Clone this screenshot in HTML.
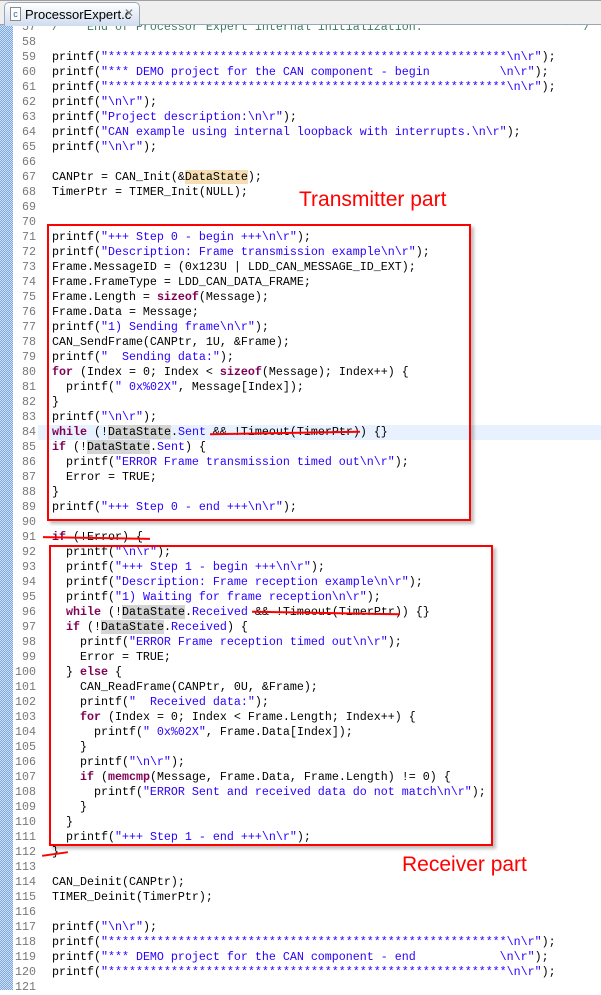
<!DOCTYPE html>
<html><head><meta charset="utf-8">
<style>
*{margin:0;padding:0;box-sizing:border-box}
body{width:601px;height:990px;overflow:hidden;background:#fff;position:relative;font-family:"Liberation Mono",monospace;font-size:11.67px}
.strip{position:absolute;left:0;top:24px;width:13px;height:966px;background-color:#cfe0f7;background-image:linear-gradient(45deg,#7aa7e0 25%,transparent 25%,transparent 75%,#7aa7e0 75%),linear-gradient(45deg,#7aa7e0 25%,transparent 25%,transparent 75%,#7aa7e0 75%);background-size:2px 2px;background-position:0 0,1px 1px}
.tabbar{position:absolute;left:0;top:0;width:601px;height:25px;background:#efefef;border-top:1px solid #a0a0a0;border-bottom:1px solid #9aa6b5}
.tab{position:absolute;left:4px;top:1px;width:136px;height:24px;background:linear-gradient(#ffffff,#cfdcee);border:1px solid #9aa6b5;border-bottom:none;border-radius:5px 5px 0 0;font-family:"Liberation Sans",sans-serif;font-size:13px;color:#000}
.ln{position:absolute;left:0;width:36px;text-align:right;color:#787878;height:15px;line-height:15px;white-space:pre}
.cl{position:absolute;left:52px;height:15px;line-height:15px;white-space:pre;color:#000}
.k{color:#7f0055;font-weight:bold}
.s{color:#2a00ff}
.c{color:#3f7f5f}
.h{background:#d4d4d4}
.o{background:#f5deb3}
.box{position:absolute;border:2px solid #f00;box-shadow:3px 3px 3px rgba(0,0,0,0.25)}
.lab{position:absolute;font-family:"Liberation Sans",sans-serif;color:#f00;font-size:21px;white-space:nowrap}
.st{position:absolute;height:2px;background:#f00}
</style></head><body>
<div class="strip"></div>
<div style="position:absolute;left:38px;top:425px;width:563px;height:15px;background:#e8f2fe"></div>
<div id="code"></div>
<div class="box" style="left:47px;top:224px;width:424px;height:297px"></div>
<div class="box" style="left:49px;top:545px;width:444px;height:301px"></div>
<div class="lab" style="left:299px;top:188px">Transmitter part</div>
<div class="lab" style="left:402px;top:853px">Receiver part</div>
<div class="st" style="left:210px;top:432px;width:150px;transform:rotate(-1deg)"></div>
<div class="st" style="left:43px;top:537px;width:107px;transform:rotate(1deg)"></div>
<div class="st" style="left:252px;top:612px;width:148px;transform:rotate(1deg)"></div>
<div class="st" style="left:42px;top:853px;width:26px;transform:rotate(-8deg)"></div>
<div class="tabbar"><div class="tab"><span style="position:absolute;left:5px;top:4px;width:11px;height:14px;border:1px solid #8a8a8a;background:#fff;font-size:9px;color:#3060a0;text-align:center;line-height:12px">c</span><span style="position:absolute;left:20px;top:4px">ProcessorExpert.c</span><span style="position:absolute;left:119px;top:3px;color:#777;font-size:12px">✕</span></div></div>
<script>
var L={
57:'<span class="c">/*** End of Processor Expert internal initialization.                    ***/</span>',
58:'',
59:'printf(<span class="s">"*********************************************************\\n\\r"</span>);',
60:'printf(<span class="s">"*** DEMO project for the CAN component - begin          \\n\\r"</span>);',
61:'printf(<span class="s">"*********************************************************\\n\\r"</span>);',
62:'printf(<span class="s">"\\n\\r"</span>);',
63:'printf(<span class="s">"Project description:\\n\\r"</span>);',
64:'printf(<span class="s">"CAN example using internal loopback with interrupts.\\n\\r"</span>);',
65:'printf(<span class="s">"\\n\\r"</span>);',
66:'',
67:'CANPtr = CAN_Init(&amp;<span class="o">DataState</span>);',
68:'TimerPtr = TIMER_Init(NULL);',
69:'',70:'',
71:'printf(<span class="s">"+++ Step 0 - begin +++\\n\\r"</span>);',
72:'printf(<span class="s">"Description: Frame transmission example\\n\\r"</span>);',
73:'Frame.MessageID = (0x123U | LDD_CAN_MESSAGE_ID_EXT);',
74:'Frame.FrameType = LDD_CAN_DATA_FRAME;',
75:'Frame.Length = <span class="k">sizeof</span>(Message);',
76:'Frame.Data = Message;',
77:'printf(<span class="s">"1) Sending frame\\n\\r"</span>);',
78:'CAN_SendFrame(CANPtr, 1U, &amp;Frame);',
79:'printf(<span class="s">"  Sending data:"</span>);',
80:'<span class="k">for</span> (Index = 0; Index &lt; <span class="k">sizeof</span>(Message); Index++) {',
81:'  printf(<span class="s">" 0x%02X"</span>, Message[Index]);',
82:'}',
83:'printf(<span class="s">"\\n\\r"</span>);',
84:'<span class="k">while</span> (!<span class="h">DataState</span>.<span class="s">Sent</span> &amp;&amp; !Timeout(TimerPtr)) {}',
85:'<span class="k">if</span> (!<span class="h">DataState</span>.<span class="s">Sent</span>) {',
86:'  printf(<span class="s">"ERROR Frame transmission timed out\\n\\r"</span>);',
87:'  Error = TRUE;',
88:'}',
89:'printf(<span class="s">"+++ Step 0 - end +++\\n\\r"</span>);',
90:'',
91:'<span class="k">if</span> (!Error) {',
92:'  printf(<span class="s">"\\n\\r"</span>);',
93:'  printf(<span class="s">"+++ Step 1 - begin +++\\n\\r"</span>);',
94:'  printf(<span class="s">"Description: Frame reception example\\n\\r"</span>);',
95:'  printf(<span class="s">"1) Waiting for frame reception\\n\\r"</span>);',
96:'  <span class="k">while</span> (!<span class="h">DataState</span>.<span class="s">Received</span> &amp;&amp; !Timeout(TimerPtr)) {}',
97:'  <span class="k">if</span> (!<span class="h">DataState</span>.<span class="s">Received</span>) {',
98:'    printf(<span class="s">"ERROR Frame reception timed out\\n\\r"</span>);',
99:'    Error = TRUE;',
100:'  } <span class="k">else</span> {',
101:'    CAN_ReadFrame(CANPtr, 0U, &amp;Frame);',
102:'    printf(<span class="s">"  Received data:"</span>);',
103:'    <span class="k">for</span> (Index = 0; Index &lt; Frame.Length; Index++) {',
104:'      printf(<span class="s">" 0x%02X"</span>, Frame.Data[Index]);',
105:'    }',
106:'    printf(<span class="s">"\\n\\r"</span>);',
107:'    <span class="k">if</span> (<span class="k">memcmp</span>(Message, Frame.Data, Frame.Length) != 0) {',
108:'      printf(<span class="s">"ERROR Sent and received data do not match\\n\\r"</span>);',
109:'    }',
110:'  }',
111:'  printf(<span class="s">"+++ Step 1 - end +++\\n\\r"</span>);',
112:'}',
113:'',
114:'CAN_Deinit(CANPtr);',
115:'TIMER_Deinit(TimerPtr);',
116:'',
117:'printf(<span class="s">"\\n\\r"</span>);',
118:'printf(<span class="s">"*********************************************************\\n\\r"</span>);',
119:'printf(<span class="s">"*** DEMO project for the CAN component - end            \\n\\r"</span>);',
120:'printf(<span class="s">"*********************************************************\\n\\r"</span>);',
121:''
};
var h='';
for(var n=57;n<=121;n++){var t=57+(n-59)*15-7;
h+='<div class="ln" style="top:'+t+'px">'+n+'</div><div class="cl" style="top:'+t+'px">'+L[n]+'</div>';}
document.getElementById('code').innerHTML=h;
</script>
</body></html>
